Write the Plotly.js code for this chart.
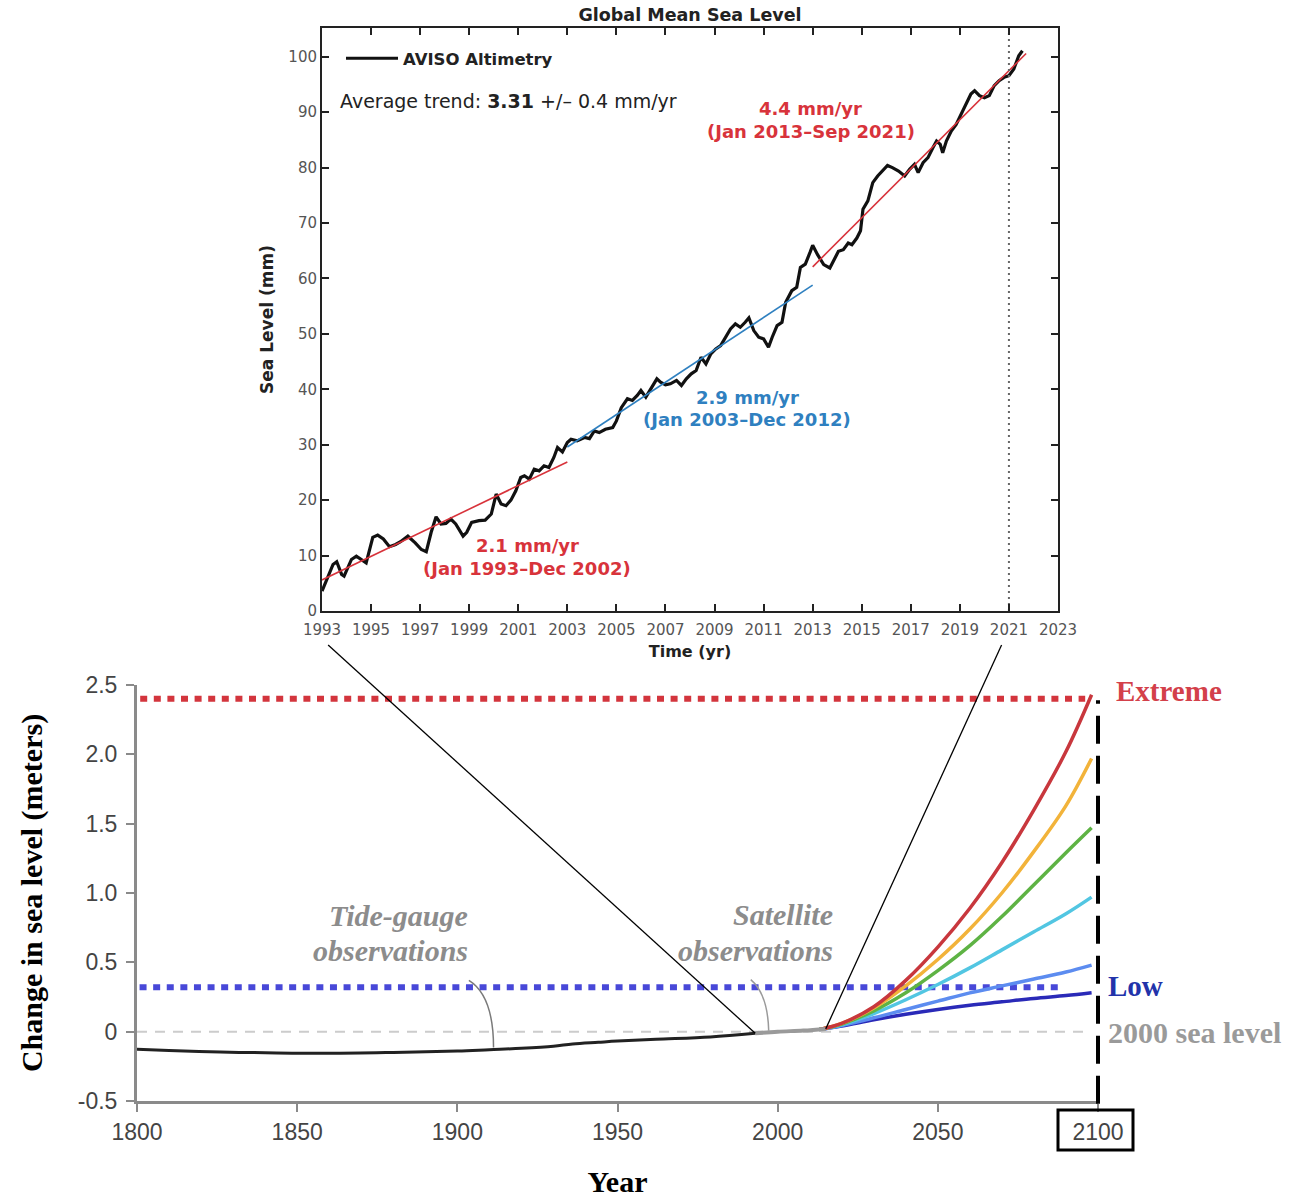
<!DOCTYPE html>
<html>
<head>
<meta charset="utf-8">
<script src="https://cdn.plot.ly/plotly-3.0.1.min.js"></script>
<style>html,body{margin:0;padding:0;background:#fff;}#chart{width:1299px;height:1198px;}</style>
</head>
<body>
<div id="chart"></div>
<script>
// ---------- Top chart data: AVISO altimetry (mm) ----------
const aviso_years = [1993.0,1993.18,1993.45,1993.6,1993.8,1993.9,1994.2,1994.4,1994.6,1994.8,1995.07,1995.27,1995.5,1995.75,1996.0,1996.2,1996.5,1996.8,1997.05,1997.25,1997.45,1997.65,1997.85,1998.05,1998.25,1998.45,1998.75,1998.9,1999.1,1999.4,1999.65,1999.9,2000.1,2000.3,2000.5,2000.7,2000.9,2001.1,2001.25,2001.45,2001.65,2001.85,2002.05,2002.25,2002.45,2002.6,2002.8,2003.0,2003.15,2003.4,2003.7,2003.9,2004.1,2004.3,2004.55,2004.85,2005.0,2005.2,2005.45,2005.65,2005.85,2006.0,2006.2,2006.4,2006.65,2006.8,2007.0,2007.2,2007.45,2007.65,2007.85,2008.05,2008.25,2008.45,2008.65,2008.85,2009.05,2009.25,2009.45,2009.65,2009.85,2010.05,2010.25,2010.4,2010.6,2010.8,2011.0,2011.2,2011.35,2011.55,2011.75,2011.9,2012.15,2012.35,2012.5,2012.7,2012.9,2013.0,2013.2,2013.45,2013.7,2013.85,2014.05,2014.25,2014.45,2014.6,2014.8,2014.95,2015.05,2015.25,2015.45,2015.65,2015.85,2016.05,2016.25,2016.5,2016.75,2016.95,2017.15,2017.3,2017.5,2017.7,2017.9,2018.05,2018.2,2018.3,2018.45,2018.65,2018.85,2019.05,2019.25,2019.45,2019.6,2019.8,2020.0,2020.2,2020.4,2020.6,2020.8,2021.0,2021.2,2021.4,2021.55];
const aviso_mm = [3.6,5.4,8.4,8.9,6.6,6.3,9.3,9.9,9.3,8.7,13.3,13.7,13.0,11.6,12.0,12.5,13.5,12.3,11.1,10.7,14.2,17.0,15.7,15.8,16.6,15.7,13.5,14.2,16.0,16.3,16.4,17.5,21.1,19.3,19.0,20.0,21.7,24.1,24.4,23.8,25.6,25.3,26.2,25.9,27.7,29.5,28.7,30.4,31.0,30.7,31.3,31.1,32.5,32.2,32.8,33.1,34.3,36.7,38.3,38.0,38.9,39.8,38.6,40.1,41.9,41.3,40.8,41.0,41.6,40.7,41.9,42.8,43.4,45.8,44.6,46.4,47.3,47.9,49.4,50.9,51.8,51.2,52.1,52.9,50.6,49.4,49.1,47.6,49.4,51.5,52.1,55.7,57.8,58.4,62.0,62.6,64.8,66.0,64.3,62.5,61.9,63.1,64.9,65.2,66.4,66.1,67.3,68.6,72.5,74.0,77.3,78.5,79.4,80.4,80.0,79.4,78.5,79.7,80.6,79.1,80.9,81.8,83.6,84.8,84.2,82.7,84.8,86.6,87.8,89.6,91.4,93.3,93.9,93.0,92.6,93.0,94.8,95.7,96.3,96.6,97.8,100.2,101.1];

// trend segments (end points)
const trend1_years = [1993, 2003];   const trend1_mm = [5.6, 26.9];
const trend2_years = [2003, 2013];   const trend2_mm = [29.6, 58.8];
const trend3_years = [2013, 2021.7]; const trend3_mm = [62.1, 100.6];
const marker_year = [2021, 2021];    const marker_mm = [0, 105.2];

const top_xticks = [1993,1995,1997,1999,2001,2003,2005,2007,2009,2011,2013,2015,2017,2019,2021,2023];
const top_yticks = [0,10,20,30,40,50,60,70,80,90,100];

// ---------- Bottom chart data: change in sea level (m) ----------
const obs_years = [1800,1810,1826,1840,1860,1880,1900,1910,1920,1930,1936,1944,1950,1962,1979,1993];
const obs_m     = [-0.127,-0.135,-0.147,-0.152,-0.156,-0.150,-0.140,-0.130,-0.120,-0.105,-0.089,-0.077,-0.068,-0.055,-0.038,-0.012];
const sat_years = [1993, 2000, 2008, 2015];
const sat_m     = [-0.012, 0.0, 0.008, 0.02];

const proj_years   = [2013, 2020, 2030, 2040, 2050, 2060, 2070, 2080, 2090, 2098];
const proj_extreme = [0.015, 0.06, 0.18, 0.37, 0.61, 0.89, 1.22, 1.60, 2.02, 2.43];
const proj_high    = [0.015, 0.06, 0.17, 0.33, 0.52, 0.74, 1.00, 1.30, 1.63, 1.97];
const proj_inthigh = [0.015, 0.055, 0.15, 0.28, 0.44, 0.62, 0.83, 1.06, 1.29, 1.47];
const proj_interm  = [0.015, 0.05, 0.13, 0.23, 0.34, 0.46, 0.59, 0.72, 0.85, 0.97];
const proj_intlow  = [0.015, 0.045, 0.10, 0.16, 0.22, 0.28, 0.33, 0.38, 0.43, 0.48];
const proj_low     = [0.015, 0.04, 0.085, 0.125, 0.16, 0.19, 0.215, 0.24, 0.26, 0.28];

const extreme_line_years = [1801, 2096]; const extreme_line_m = [2.4, 2.4];
const low_line_years     = [1800.8, 2089]; const low_line_m   = [0.32, 0.32];
const base_line_years    = [1800, 2096]; const base_line_m    = [0, 0];

const bot_xticks = [1800,1850,1900,1950,2000,2050,2100];
const bot_yticks = [-0.5,0,0.5,1.0,1.5,2.0,2.5];
const bot_yticktext = ['-0.5','0','0.5','1.0','1.5','2.0','2.5'];

// ---------- geometry ----------
const W = 1299, H = 1198;
const TOP = {xd:[322/W, 1058/W], yd:[1-611/H, 1-28/H], xr:[1993,2023], yr:[0,105.2]};
const BOT = {xd:[137/W, 1098/W], yd:[1-1101/H, 1-685/H], xr:[1800,2100], yr:[-0.5,2.5]};
function px(a, v){ return a.xd[0] + (v-a.xr[0])/(a.xr[1]-a.xr[0])*(a.xd[1]-a.xd[0]); }
function py(a, v){ return a.yd[0] + (v-a.yr[0])/(a.yr[1]-a.yr[0])*(a.yd[1]-a.yd[0]); }

const SANS = 'DejaVu Sans, Verdana, sans-serif';
const NARROW = 'Liberation Sans, Arial, sans-serif';
const SERIF = 'Liberation Serif, Times New Roman, serif';
const RED = '#d8333b', BLUE = '#2f80c0';

const traces = [
  {x: aviso_years, y: aviso_mm, xaxis:'x', yaxis:'y', mode:'lines', name:'AVISO Altimetry',
   line:{color:'#111', width:3.2}, showlegend:true},
  {x: trend1_years, y: trend1_mm, xaxis:'x', yaxis:'y', mode:'lines', line:{color:RED, width:1.6}, showlegend:false},
  {x: trend2_years, y: trend2_mm, xaxis:'x', yaxis:'y', mode:'lines', line:{color:BLUE, width:1.6}, showlegend:false},
  {x: trend3_years, y: trend3_mm, xaxis:'x', yaxis:'y', mode:'lines', line:{color:RED, width:1.6}, showlegend:false},
  {x: marker_year, y: marker_mm, xaxis:'x', yaxis:'y', mode:'lines', line:{color:'#666', width:2, dash:'2px,4px'}, showlegend:false},

  {x: base_line_years, y: base_line_m, xaxis:'x2', yaxis:'y2', mode:'lines', line:{color:'#cccccc', width:2, dash:'10px,8px'}, showlegend:false},
  {x: extreme_line_years, y: extreme_line_m, xaxis:'x2', yaxis:'y2', mode:'lines', line:{color:'#d3353d', width:6, dash:'7px,6.6px'}, showlegend:false},
  {x: low_line_years, y: low_line_m, xaxis:'x2', yaxis:'y2', mode:'lines', line:{color:'#4848d8', width:6, dash:'7px,6.6px'}, showlegend:false},
  {x: proj_years, y: proj_low, xaxis:'x2', yaxis:'y2', mode:'lines', line:{color:'#2a2ab8', width:3.5, shape:'spline'}, showlegend:false},
  {x: proj_years, y: proj_intlow, xaxis:'x2', yaxis:'y2', mode:'lines', line:{color:'#5c8cf0', width:3.5, shape:'spline'}, showlegend:false},
  {x: proj_years, y: proj_interm, xaxis:'x2', yaxis:'y2', mode:'lines', line:{color:'#52c6e2', width:3.5, shape:'spline'}, showlegend:false},
  {x: proj_years, y: proj_inthigh, xaxis:'x2', yaxis:'y2', mode:'lines', line:{color:'#5eb344', width:3.5, shape:'spline'}, showlegend:false},
  {x: proj_years, y: proj_high, xaxis:'x2', yaxis:'y2', mode:'lines', line:{color:'#f2b33a', width:3.5, shape:'spline'}, showlegend:false},
  {x: proj_years, y: proj_extreme, xaxis:'x2', yaxis:'y2', mode:'lines', line:{color:'#c8373d', width:3.5, shape:'spline'}, showlegend:false},
  {x: sat_years, y: sat_m, xaxis:'x2', yaxis:'y2', mode:'lines', line:{color:'#9a9a9a', width:4, shape:'spline'}, showlegend:false},
  {x: obs_years, y: obs_m, xaxis:'x2', yaxis:'y2', mode:'lines', line:{color:'#222', width:3, shape:'spline'}, showlegend:false}
];

const topAxisCommon = {showline:true, linecolor:'#222', linewidth:2, mirror:'ticks', ticks:'inside',
  ticklen:7, tickwidth:2, tickcolor:'#222', showgrid:false, zeroline:false,
  tickfont:{family:SANS, size:15, color:'#555'}};

const serifAnn = (x, y, text, color, anchor, size) => ({xref:'paper', yref:'paper', x:x, y:y, xanchor:anchor,
  yanchor:'middle', showarrow:false, text:text, font:{family:SERIF, size:size, color:color}});

const layout = {
  width: W, height: H, margin:{l:0, r:0, t:0, b:0},
  paper_bgcolor:'#fff', plot_bgcolor:'rgba(0,0,0,0)',
  font:{family:SANS, color:'#222'},
  title:{text:'Global Mean Sea Level', x:690/W, y:1-15/H, xref:'paper', yref:'container',
         xanchor:'center', yanchor:'middle', font:{family:SANS, size:17.5, weight:'bold', color:'#222'}},
  showlegend:true,
  legend:{x:341/W, y:1-41/H, xanchor:'left', yanchor:'top', bgcolor:'rgba(0,0,0,0)', itemwidth:52,
          font:{family:SANS, size:16.5, weight:'bold', color:'#222'}},
  xaxis: Object.assign({}, topAxisCommon, {domain:TOP.xd, range:TOP.xr, tickvals:top_xticks, anchor:'y',
          ticklabelstandoff:4,
          title:{text:'Time (yr)', font:{family:SANS, size:16, weight:'bold', color:'#222'}, standoff:8}}),
  yaxis: Object.assign({}, topAxisCommon, {domain:TOP.yd, range:TOP.yr, tickvals:top_yticks, anchor:'x',
          title:{text:'Sea Level (mm)', font:{family:SANS, size:17, weight:'bold', color:'#222'}, standoff:10}}),
  xaxis2: {domain:BOT.xd, range:BOT.xr, anchor:'y2', tickvals:bot_xticks, showline:true, linecolor:'#8a8a8a',
          linewidth:3, ticks:'outside', ticklen:8, tickwidth:2, tickcolor:'#8a8a8a', showgrid:false, zeroline:false,
          tickfont:{family:NARROW, size:23, color:'#444'},
          title:{text:'Year', font:{family:SERIF, size:30, weight:'bold', color:'#000'}, standoff:28}},
  yaxis2: {domain:BOT.yd, range:BOT.yr, anchor:'x2', tickvals:bot_yticks, ticktext:bot_yticktext, showline:true,
          linecolor:'#8a8a8a', linewidth:3, ticks:'outside', ticklen:8, tickwidth:2, tickcolor:'#8a8a8a',
          ticklabelstandoff:4,
          showgrid:false, zeroline:false, tickfont:{family:NARROW, size:23, color:'#444'},
          title:{text:'Change in sea level (meters)', font:{family:SERIF, size:30, weight:'bold', color:'#000'}, standoff:27}},
  annotations: [
    {xref:'x', yref:'y', x:1993.65, y:92.1, xanchor:'left', yanchor:'middle', showarrow:false,
     text:'Average trend: <b>3.31</b> +/– 0.4 mm/yr', font:{family:SANS, size:19, color:'#222'}},
    {xref:'x', yref:'y', x:2012.9, y:90.6, showarrow:false, text:'4.4 mm/yr', font:{family:SANS, size:18, weight:'bold', color:RED}},
    {xref:'x', yref:'y', x:2012.93, y:86.5, showarrow:false, text:'(Jan 2013–Sep 2021)', font:{family:SANS, size:18, weight:'bold', color:RED}},
    {xref:'x', yref:'y', x:2010.33, y:38.6, showarrow:false, text:'2.9 mm/yr', font:{family:SANS, size:18, weight:'bold', color:BLUE}},
    {xref:'x', yref:'y', x:2010.33, y:34.5, showarrow:false, text:'(Jan 2003–Dec 2012)', font:{family:SANS, size:18, weight:'bold', color:BLUE}},
    {xref:'x', yref:'y', x:2001.36, y:11.9, showarrow:false, text:'2.1 mm/yr', font:{family:SANS, size:18, weight:'bold', color:RED}},
    {xref:'x', yref:'y', x:2001.36, y:7.6, showarrow:false, text:'(Jan 1993–Dec 2002)', font:{family:SANS, size:18, weight:'bold', color:RED}},

    serifAnn(px(BOT,1903.9), py(BOT,0.837), '<b><i>Tide-gauge</i></b>', '#8c8c8c', 'right', 30),
    serifAnn(px(BOT,1903.9), py(BOT,0.584), '<b><i>observations</i></b>', '#8c8c8c', 'right', 30),
    serifAnn(px(BOT,2017.8), py(BOT,0.844), '<b><i>Satellite</i></b>', '#8c8c8c', 'right', 30),
    serifAnn(px(BOT,2017.8), py(BOT,0.584), '<b><i>observations</i></b>', '#8c8c8c', 'right', 30),
    serifAnn(px(BOT,2105.1), py(BOT,2.46), '<b>Extreme</b>', '#d3404a', 'left', 29),
    serifAnn(px(BOT,2102.6), py(BOT,0.33), '<b>Low</b>', '#2233aa', 'left', 29),
    serifAnn(px(BOT,2102.6), py(BOT,-0.007), '<b>2000 sea level</b>', '#9a9a9a', 'left', 30)
  ],
  shapes: [
    // connectors from the satellite record to the long-term chart
    {type:'line', xref:'paper', yref:'paper', x0:px(TOP,1993.25), y0:TOP.yd[0]-34/H,
     x1:px(BOT, obs_years[obs_years.length-1]), y1:py(BOT, obs_m[obs_m.length-1]), line:{color:'#000', width:1.3}},
    {type:'line', xref:'paper', yref:'paper', x0:px(TOP,2020.7), y0:TOP.yd[0]-34/H,
     x1:px(BOT, sat_years[sat_years.length-1]), y1:py(BOT, sat_m[sat_m.length-1]), line:{color:'#000', width:1.3}},
    // curved pointers
    {type:'path', xref:'x2', yref:'y2', path:'M1903.6,0.37 Q1911.3,0.26 1911.3,-0.115', line:{color:'#7a7a7a', width:1.5}},
    {type:'path', xref:'x2', yref:'y2', path:'M1991.6,0.375 Q1996.9,0.272 1997.2,0.007', line:{color:'#9a9a9a', width:1.5}},
    // 2100 marker
    {type:'line', xref:'paper', yref:'paper', x0:BOT.xd[1], x1:BOT.xd[1], y0:py(BOT,-0.52), y1:py(BOT,2.39),
     line:{color:'#000', width:4, dash:'28px,12px'}},
    {type:'rect', xref:'paper', yref:'paper', xsizemode:'pixel', ysizemode:'pixel',
     xanchor:BOT.xd[1], yanchor:BOT.yd[0], x0:-40, x1:35, y0:-9, y1:-49, line:{color:'#000', width:3}}
  ]
};

Plotly.newPlot('chart', traces, layout, {staticPlot:true, displayModeBar:false});
</script>
</body>
</html>
